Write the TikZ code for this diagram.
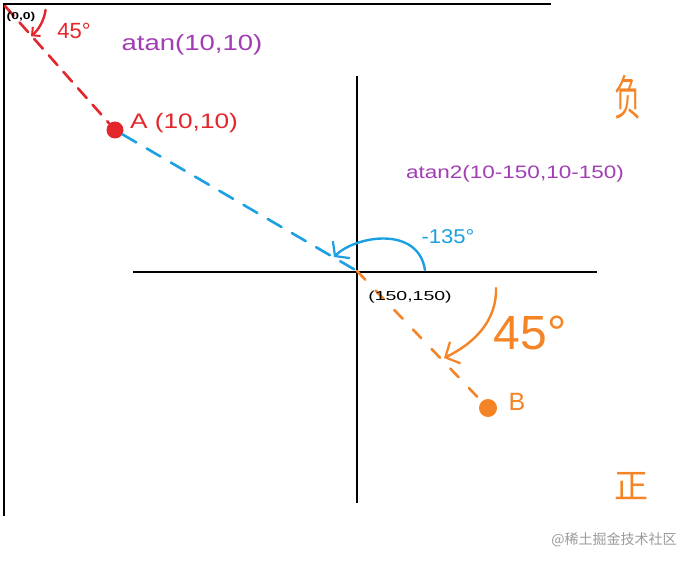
\documentclass[tikz,border=0pt]{standalone}
\usepackage{fontspec}
\setmainfont{Liberation Sans}
\newfontfamily\cjk{Noto Sans CJK SC}
\usetikzlibrary{arrows.meta}
\definecolor{cred}{HTML}{E3262B}
\definecolor{cblue}{HTML}{1BA1E2}
\definecolor{corange}{HTML}{F58426}
\definecolor{cpurple}{HTML}{A23DB5}
\definecolor{cwm}{HTML}{9B9B9B}
\newcommand{\fs}[1]{\fontsize{#1}{#1}\selectfont}
\begin{document}
\begin{tikzpicture}[x=1pt,y=-1pt,
  axis/.style={line width=2.6pt, black},
  dashline/.style={line width=2.6pt, line cap=round},
  dot/.style={circle, inner sep=0pt, minimum size=17pt},
  hand/.style={inner sep=0pt, anchor=center},
  arcline/.style={line width=2.4pt, line cap=round},
]
\useasboundingbox (0,0) rectangle (696,564);
\fill[white] (0,0) rectangle (696,564);

% frame and axes
\coordinate (F1) at (4,4);
\coordinate (F2) at (551,4);
\coordinate (F3) at (4,516);
\draw[axis] (F3) -- (F1) -- (F2);
\coordinate (VT) at (357,76);
\coordinate (VB) at (357,503);
\coordinate (HL) at (133,272);
\coordinate (HR) at (597,272);
\draw[axis] (VT) -- (VB);
\draw[axis] (HL) -- (HR);

% points
\coordinate (O) at (5,6);
\coordinate (C) at (357,271);
\node[dot, fill=cred] (A) at (115,130) {};
\node[dot, fill=corange, minimum size=18pt] (B) at (488,408) {};

% dashed connectors
\draw[dashline, cred, dash pattern=on 13pt off 9pt] (O) -- (A);
\draw[dashline, cblue, dash pattern=on 16pt off 12pt] (A) -- (C);
\draw[dashline, corange, dash pattern=on 12pt off 15pt] (C) -- (B);

% angle arcs
\draw[arcline, cred, -{Straight Barb[length=6pt,width=12pt,line width=2pt]}] (4,4) ++(8:42) arc[start angle=8, end angle=50, radius=42];
\draw[arcline, cblue, -{Straight Barb[length=9pt,width=24pt,line width=2.2pt]}] (425,270) .. controls (418,225) and (355,236) .. (334,257);
\draw[arcline, corange, -{Straight Barb[length=11pt,width=24pt,line width=2.2pt]}] (496,288) .. controls (497,320) and (475,343) .. (444,358);

% labels
\node[hand, font=\bfseries\fs{10}, xscale=1.4] (l00) at (21,17) {(0,0)};
\node[hand, text=cred, font=\fs{22}] (l45a) at (74,31) {45°};
\node[hand, text=cpurple, font=\fs{22}, xscale=1.25] (latan) at (192,45) {atan(10,10)};
\node[hand, text=cred, font=\fs{21}, xscale=1.25] (lA) at (184,123) {A (10,10)};
\node[hand, text=cpurple, font=\fs{18}, xscale=1.25] (latan2) at (515,174) {atan2(10-150,10-150)};
\node[hand, text=cblue, font=\fs{20}, xscale=1.1] (l135) at (448,237) {-135°};
\node[hand, text=black, font=\fs{13}, xscale=1.5] (l150) at (410,297) {(150,150)};
\node[hand, text=corange, font=\fs{48}] (l45b) at (530,333) {45°};
\node[hand, text=corange, font=\fs{25}] (lB) at (517,402) {B};
\node[hand, text=corange, font=\cjk\fs{30}, xscale=0.9, yscale=1.6] (lneg) at (628,97) {负};
\node[hand, text=corange, font=\cjk\fs{34}] (lpos) at (631,486) {正};
\node[hand, text=cwm, font=\cjk\fs{14}] (wm) at (614,540) {@稀土掘金技术社区};
\end{tikzpicture}
\end{document}
